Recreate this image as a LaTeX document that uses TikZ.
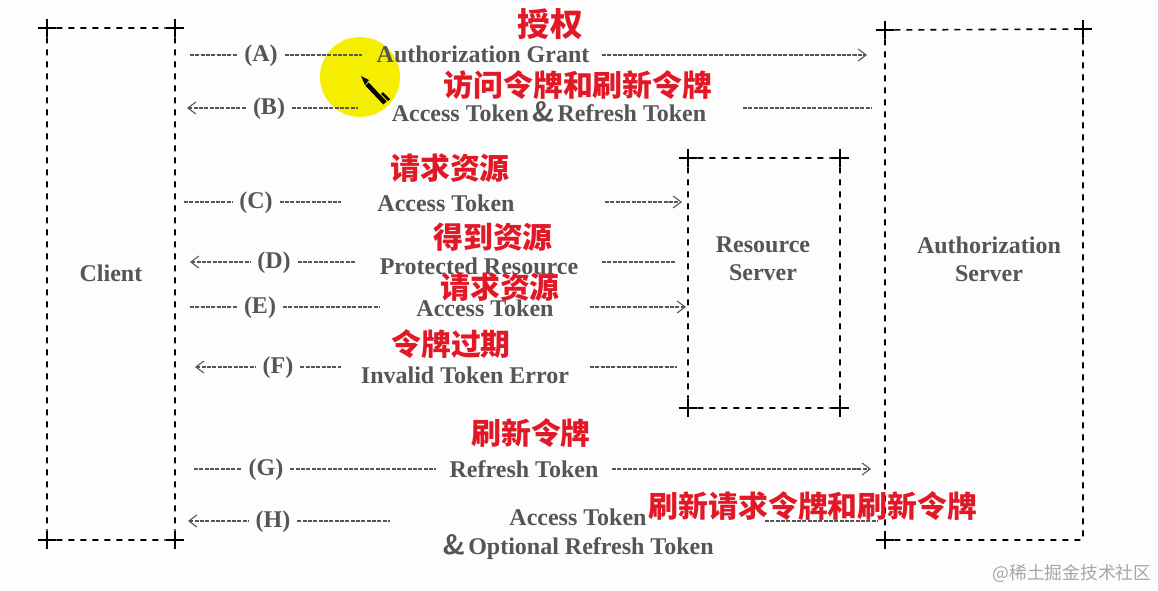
\documentclass[tikz,border=0pt]{standalone}
\usepackage{fontspec}
\usepackage{xcolor}
\usetikzlibrary{arrows.meta, positioning, shapes.misc}
\setmainfont{Liberation Serif}
\newfontfamily\cjk{Noto Sans CJK SC}
\definecolor{papercolor}{RGB}{253, 253, 253}
\definecolor{printgray}{RGB}{85, 85, 85}
\definecolor{notered}{RGB}{226, 24, 38}
\definecolor{markyellow}{RGB}{246, 238, 0}

\begin{document}
\begin{tikzpicture}[
    x=0.75pt, y=-0.75pt,
    corner/.style={cross out, draw=black, rotate=45, minimum size=8.5pt, inner sep=0pt, line width=1.5pt},
    boxline/.style={black, line width=1.2pt, dash pattern=on 4.5pt off 4.5pt},
    party/.style={font=\fontsize{18}{21}\selectfont\bfseries, text=printgray, align=center, inner sep=0pt},
    letter/.style={font=\fontsize{18}{22}\selectfont\bfseries, text=printgray, inner sep=5pt, text height=13pt, text depth=4pt},
    msg/.style={font=\fontsize{18}{22}\selectfont\bfseries, text=printgray, inner sep=0pt, align=center},
    flow/.style={printgray, line width=0.9pt, dash pattern=on 3pt off 1pt},
    tipright/.style={flow, -{Butt Cap[sep=3pt] Straight Barb[length=6pt, width=9pt, line width=0.8pt]}},
    tipleft/.style={flow, {Straight Barb[length=6pt, width=9pt, line width=0.8pt] Butt Cap[sep=3pt]}-},
    note/.style={font=\cjk\fontsize{22.4}{24}\selectfont\bfseries, text=notered, inner sep=0pt}
]
    \fill[papercolor] (0,0) rectangle (1158,590);
    \useasboundingbox (0,0) rectangle (1158,590);

    % Marker
    \fill[markyellow] (360,77) circle (40);

    % Client box
    \node[corner] (cltl) at (47,28) {};
    \node[corner] (cltr) at (175,28) {};
    \node[corner] (clbl) at (47,540) {};
    \node[corner] (clbr) at (175,540) {};
    \draw[boxline] (cltl) -- (cltr);
    \draw[boxline] (cltl) -- (clbl);
    \draw[boxline] (cltr) -- (clbr);
    \draw[boxline] (clbl) -- (clbr);
    \node[party] (client) at (111,273) {Client};

    % Resource server box
    \node[corner] (restl) at (688,158) {};
    \node[corner] (restr) at (840,158) {};
    \node[corner] (resbl) at (688,408) {};
    \node[corner] (resbr) at (840,408) {};
    \draw[boxline] (restl) -- (restr);
    \draw[boxline] (restl) -- (resbl);
    \draw[boxline] (restr) -- (resbr);
    \draw[boxline] (resbl) -- (resbr);
    \node[party] (resource) at (763,259) {Resource\\Server};

    % Authorization server box
    \node[corner] (authtl) at (885,30) {};
    \node[corner] (authtr) at (1083,29) {};
    \node[corner] (authbl) at (885,540) {};
    \coordinate (authbr) at (1083,540);
    \draw[boxline] (authtl) -- (authtr);
    \draw[boxline] (authtl) -- (authbl);
    \draw[boxline] (authtr) -- (authbr);
    \draw[boxline] (authbl) -- (authbr);
    \node[party] (authserver) at (989,259) {Authorization\\Server};

    % Message texts
    \node[msg] (grant) at (483,54) {Authorization Grant};
    \node[msg] (tokens) at (549,112) {Access Token\hspace{2pt}{\sffamily\fontsize{21}{22}\selectfont\&}\hspace{2pt}Refresh Token};
    \node[msg] (tokenc) at (446,203) {Access Token};
    \node[msg] (protected) at (479,266) {Protected Resource};
    \node[msg] (tokene) at (485,308) {Access Token};
    \node[msg] (invalid) at (465,375) {Invalid Token Error};
    \node[msg] (refresh) at (524,469) {Refresh Token};
    \node[msg] (tokenh) at (578,534) {Access Token\\{\sffamily\fontsize{21}{22}\selectfont\&}\hspace{2pt}Optional Refresh Token};

    % Step letters
    \node[letter] (a) at (261,55) {(A)};
    \node[letter] (b) at (269,108) {(B)};
    \node[letter] (c) at (256,202) {(C)};
    \node[letter] (d) at (274,262) {(D)};
    \node[letter] (e) at (260,307) {(E)};
    \node[letter] (f) at (278,367) {(F)};
    \node[letter] (g) at (266,469) {(G)};
    \node[letter] (h) at (273,521) {(H)};

    % Line ends
    \coordinate (a0) at (190,55); \coordinate (a1) at (362,55);
    \coordinate (a2) at (602,55); \coordinate (a3) at (867,55);
    \coordinate (b0) at (187,108); \coordinate (b1) at (358,108);
    \coordinate (b2) at (743,108); \coordinate (b3) at (872,108);
    \coordinate (c0) at (184,202); \coordinate (c1) at (341,202);
    \coordinate (c2) at (605,202); \coordinate (c3) at (682,202);
    \coordinate (d0) at (190,262); \coordinate (d1) at (356,262);
    \coordinate (d2) at (602,262); \coordinate (d3) at (675,262);
    \coordinate (e0) at (190,307); \coordinate (e1) at (380,307);
    \coordinate (e2) at (590,307); \coordinate (e3) at (686,307);
    \coordinate (f0) at (195,367); \coordinate (f1) at (341,367);
    \coordinate (f2) at (590,367); \coordinate (f3) at (677,367);
    \coordinate (g0) at (194,469); \coordinate (g1) at (436,469);
    \coordinate (g2) at (612,469); \coordinate (g3) at (871,469);
    \coordinate (h0) at (188,521); \coordinate (h1) at (390,521);
    \coordinate (h2) at (765,521); \coordinate (h3) at (878,521);

    % Arrows
    \draw[flow] (a0) -- (a);
    \draw[flow] (a) -- (a1);
    \draw[tipright] (a2) -- (a3);
    \draw[tipleft] (b0) -- (b);
    \draw[flow] (b) -- (b1);
    \draw[flow] (b2) -- (b3);
    \draw[flow] (c0) -- (c);
    \draw[flow] (c) -- (c1);
    \draw[tipright] (c2) -- (c3);
    \draw[tipleft] (d0) -- (d);
    \draw[flow] (d) -- (d1);
    \draw[flow] (d2) -- (d3);
    \draw[flow] (e0) -- (e);
    \draw[flow] (e) -- (e1);
    \draw[tipright] (e2) -- (e3);
    \draw[tipleft] (f0) -- (f);
    \draw[flow] (f) -- (f1);
    \draw[flow] (f2) -- (f3);
    \draw[flow] (g0) -- (g);
    \draw[flow] (g) -- (g1);
    \draw[tipright] (g2) -- (g3);
    \draw[tipleft] (h0) -- (h);
    \draw[flow] (h) -- (h1);
    \draw[flow] (h2) -- (h3);

    % Pen
    \draw[black, line width=3.4pt] (367,84) -- (385,103);
    \fill[black] (361,76) -- (369,80) -- (365,85) -- cycle;
    \draw[black, line width=2pt] (382,93) -- (389,100);

    % Red notes
    \node[note, font=\cjk\fontsize{24.5}{26}\selectfont\bfseries] (noteauth) at (550,24) {授权};
    \node[note] (notetokens) at (578,85) {访问令牌和刷新令牌};
    \node[note] (notereqc) at (450,168) {请求资源};
    \node[note] (noteget) at (493,237) {得到资源};
    \node[note] (notereqe) at (500,287) {请求资源};
    \node[note] (noteexpired) at (451,344) {令牌过期};
    \node[note] (noterefresh) at (531,433) {刷新令牌};
    \node[note] (notereqh) at (813,506) {刷新请求令牌和刷新令牌};

    % Watermark
    \node[font=\cjk\fontsize{13.3}{15}\selectfont, text=black!35, inner sep=0pt] (mark) at (1072,573) {@稀土掘金技术社区};
\end{tikzpicture}
\end{document}
